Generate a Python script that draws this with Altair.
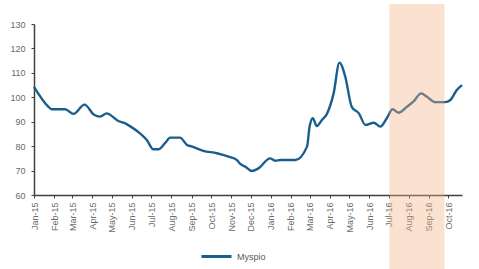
import altair as alt
import pandas as pd

dates = ["2015-01-01", "2015-01-23", "2015-01-28", "2015-02-18", "2015-03-03", "2015-03-20",
         "2015-04-03", "2015-04-13", "2015-04-23", "2015-05-11", "2015-05-21", "2015-05-29",
         "2015-06-13", "2015-06-24", "2015-07-04", "2015-07-12", "2015-07-22", "2015-07-30",
         "2015-08-14", "2015-08-25", "2015-09-01", "2015-09-19", "2015-10-10", "2015-10-28",
         "2015-11-10", "2015-11-15", "2015-11-23", "2015-12-03", "2015-12-13", "2015-12-31",
         "2016-01-08", "2016-01-16", "2016-02-08", "2016-02-26", "2016-03-01", "2016-03-06",
         "2016-03-12", "2016-03-20", "2016-03-28", "2016-04-07", "2016-04-16", "2016-04-25",
         "2016-05-05", "2016-05-16", "2016-05-26", "2016-06-08", "2016-06-18", "2016-06-28",
         "2016-07-07", "2016-07-16", "2016-07-29", "2016-08-08", "2016-08-20", "2016-08-29",
         "2016-09-11", "2016-09-26", "2016-10-04", "2016-10-14", "2016-10-22"]
values = [104.3, 96.2, 95.1, 95.1, 93.2, 97.0,
          93.0, 92.1, 93.4, 90.3, 89.4, 88.2,
          85.3, 82.5, 78.7, 78.7, 81.2, 83.5,
          83.5, 80.5, 79.9, 78.1, 77.1, 75.7,
          74.3, 72.7, 71.6, 69.8, 70.9, 75.0,
          74.0, 74.3, 74.3, 79.8, 88.0, 91.4,
          88.2, 90.7, 93.4, 101.6, 114.2, 108.4,
          96.1, 93.4, 88.7, 89.6, 88.0, 91.4,
          95.1, 93.7, 96.1, 98.2, 101.6, 100.2,
          98.0, 98.0, 98.9, 103.0, 105.0]
series_name = "Myspio"
band_start = ["2016-07-02"]
band_end = ["2016-09-25"]

df = pd.DataFrame({"date": dates, "value": values, "series": series_name})
band_df = pd.DataFrame({"start": band_start, "end": band_end})

W, H = 428, 171
xscale = alt.Scale(domain=[alt.DateTime(year=2015, month=1, date=1),
                           alt.DateTime(year=2016, month=10, date=22)], nice=False)

line = alt.Chart(df).mark_line(strokeWidth=2.4, interpolate="monotone").encode(
    x=alt.X("date:T", scale=xscale,
            axis=alt.Axis(title=None, format="%b-%y", tickCount={"interval": "month", "step": 1},
                          labelAngle=270, labelAlign="right", labelBaseline="middle",
                          labelFontSize=9, labelColor="#6a6a6a", labelFont="Liberation Sans",
                          labelOverlap=False, labelPadding=4, labelFlush=False,
                          domainColor="#404040", domainWidth=1.5, tickColor="#404040",
                          tickSize=3, grid=False)),
    y=alt.Y("value:Q", scale=alt.Scale(domain=[60, 130], nice=False, zero=False),
            axis=alt.Axis(title=None, values=list(range(60, 131, 10)), labelFontSize=9,
                          labelColor="#6a6a6a", labelFont="Liberation Sans", labelPadding=6,
                          domainColor="#404040", domainWidth=1.5, tickColor="#404040",
                          tickSize=3, grid=False)),
    color=alt.Color("series:N", scale=alt.Scale(range=["#1A5E8E"]),
                    legend=alt.Legend(title=None, orient="none", legendX=166, legendY=216,
                                      symbolType="stroke", symbolSize=900, symbolStrokeWidth=3,
                                      labelFontSize=9, labelColor="#595959",
                                      labelFont="Liberation Sans")),
)

band = alt.Chart(band_df).mark_rect(color="#F4B183", opacity=0.38).encode(
    x=alt.X("start:T", scale=xscale),
    x2="end:T",
    y=alt.value(-20),
    y2=alt.value(H + 80),
)

chart = alt.layer(line, band).properties(
    width=W, height=H,
    autosize=alt.AutoSizeParams(type="none"),
    padding={"left": 34, "top": 24, "right": 17, "bottom": 74},
).configure_view(stroke=None)

chart.save("out.html", embed_options={"renderer": "svg", "actions": False})
